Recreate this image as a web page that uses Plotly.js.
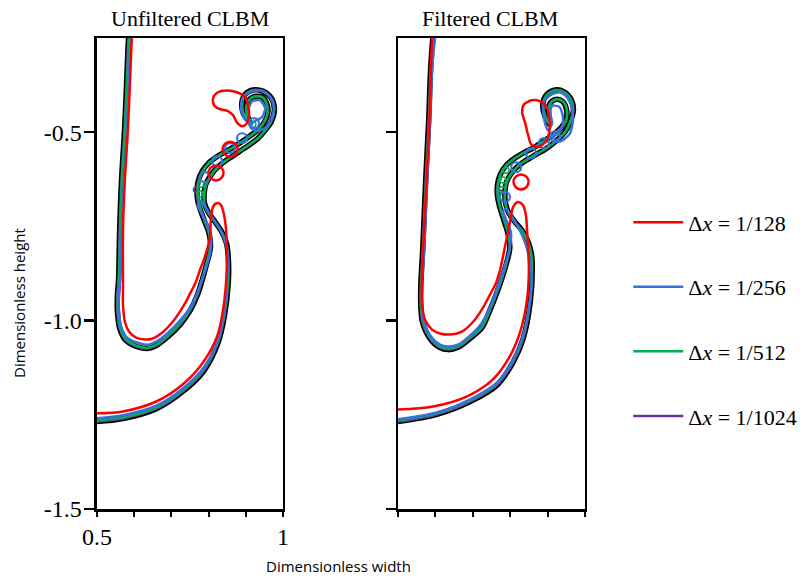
<!DOCTYPE html>
<html><head><meta charset="utf-8">
<script src="https://cdn.plot.ly/plotly-3.0.1.min.js"></script>
<style>html,body{margin:0;padding:0;background:#fff}</style>
</head><body><div id="chart" style="width:806px;height:582px"></div>
<script>
// ---------- labels ----------
const panelTitles = ['Unfiltered CLBM', 'Filtered CLBM'];
const seriesNames = ['Δ<i>x</i> = 1/128', 'Δ<i>x</i> = 1/256', 'Δ<i>x</i> = 1/512', 'Δ<i>x</i> = 1/1024'];
const xTickVals = [0.5, 0.6, 0.7, 0.8, 0.9, 1.0];
const xTickText = ['0.5', '', '', '', '', '1'];
const yTickVals = [-0.5, -1.0, -1.5];
const yTickText = ['-0.5', '-1.0', '-1.5'];

// ---------- Unfiltered CLBM (left) ----------
// dx = 1/128
const redLx = [.500,.570,.661,.731,.785,.823,.839,.849,.849,.847,.841,.833,.823,.812,.806,.804,.790,.777,.766,.753,.739,.723,.702,.675,.648,.629,.605,.586,.575,.570,.570,.570,.575,.583,.589,.594,.597];
const redLy = [-1.246,-1.241,-1.214,-1.169,-1.111,-1.042,-0.971,-0.865,-0.812,-0.759,-0.717,-0.693,-0.688,-0.698,-0.733,-0.778,-0.831,-0.865,-0.897,-0.923,-0.950,-0.976,-1.005,-1.032,-1.048,-1.050,-1.045,-1.029,-1.003,-0.958,-0.905,-0.759,-0.627,-0.495,-0.362,-0.251,-0.230];
const redLblobX = [.812,.825,.849,.876,.898,.906,.909,.903,.890,.876,.866,.852,.831,.815,.812];
const redLblobY = [-0.410,-0.394,-0.389,-0.394,-0.407,-0.429,-0.455,-0.476,-0.484,-0.474,-0.455,-0.444,-0.439,-0.429,-0.410];
const redLdropX = [.820,.858];
const redLdropY = [-0.608,-0.545];
// dx = 1/256
const blueLx = [.500,.570,.661,.731,.785,.823,.841,.849,.852,.847,.831,.809,.790,.780,.771,.780,.796,.806,.806,.796,.782,.769,.750,.723,.691,.659,.637,.608,.581,.565,.559,.559,.562,.567,.573,.581,.586,.591,.594];
const blueLy = [-1.259,-1.251,-1.225,-1.180,-1.127,-1.056,-0.984,-0.900,-0.844,-0.799,-0.759,-0.725,-0.698,-0.683,-0.691,-0.714,-0.743,-0.775,-0.812,-0.852,-0.892,-0.929,-0.966,-1.000,-1.032,-1.056,-1.064,-1.058,-1.045,-1.016,-0.976,-0.931,-0.892,-0.759,-0.627,-0.495,-0.362,-0.251,-0.230];
const blueLcapX = [.892,.917,.944,.965,.976,.970,.954,.933,.914,.919,.944,.952,.938,.917,.906,.906,.895,.887,.892];
const blueLcapY = [-0.407,-0.392,-0.389,-0.405,-0.434,-0.463,-0.487,-0.497,-0.489,-0.474,-0.460,-0.436,-0.415,-0.418,-0.442,-0.468,-0.463,-0.436,-0.407];
const blueLdropX = [.790,.823,.858,.890,.922];
const blueLdropY = [-0.619,-0.577,-0.542,-0.516,-0.476];
// dx = 1/512
const greenLx = [.500,.570,.661,.731,.785,.823,.841,.852,.852,.847,.833,.815,.798,.788,.788,.793,.804,.820,.841,.863,.887,.911,.933,.952,.968,.976,.968,.946,.919,.898,.890,.895,.911,.903,.903,.919,.944,.957,.957,.944,.925,.903,.879,.852,.825,.801,.785,.774,.771,.774,.780,.790,.801,.804,.793,.782,.769,.750,.723,.688,.656,.634,.605,.578,.562,.556,.556,.559,.562,.567,.575,.581,.586,.589];
const greenLy = [-1.265,-1.257,-1.230,-1.185,-1.132,-1.061,-0.990,-0.900,-0.833,-0.794,-0.762,-0.736,-0.712,-0.688,-0.664,-0.640,-0.619,-0.598,-0.579,-0.564,-0.548,-0.532,-0.516,-0.495,-0.471,-0.439,-0.410,-0.392,-0.389,-0.402,-0.426,-0.452,-0.471,-0.450,-0.426,-0.407,-0.407,-0.429,-0.455,-0.481,-0.500,-0.516,-0.532,-0.548,-0.564,-0.582,-0.603,-0.630,-0.656,-0.683,-0.706,-0.736,-0.767,-0.807,-0.852,-0.892,-0.931,-0.971,-1.008,-1.042,-1.066,-1.072,-1.066,-1.050,-1.019,-0.976,-0.931,-0.892,-0.759,-0.627,-0.495,-0.362,-0.251,-0.230];
const greenLdropX = [.777,.780,.919];
const greenLdropY = [-0.664,-0.638,-0.479];
// dx = 1/1024
const purpleLx = [.500,.570,.661,.731,.786,.824,.842,.853,.853,.848,.834,.816,.799,.789,.788,.792,.803,.819,.840,.862,.886,.910,.932,.952,.969,.977,.969,.946,.919,.897,.889,.894,.910,.902,.902,.918,.944,.958,.958,.945,.925,.903,.879,.852,.824,.800,.783,.772,.769,.771,.778,.789,.801,.805,.794,.783,.770,.751,.724,.689,.656,.634,.604,.577,.561,.555,.555,.558,.561,.566,.574,.580,.585,.588];
const purpleLy = [-1.268,-1.260,-1.233,-1.188,-1.135,-1.063,-0.991,-0.900,-0.833,-0.794,-0.762,-0.736,-0.712,-0.688,-0.664,-0.640,-0.619,-0.598,-0.580,-0.565,-0.549,-0.533,-0.517,-0.495,-0.471,-0.439,-0.410,-0.391,-0.388,-0.401,-0.426,-0.452,-0.471,-0.450,-0.426,-0.407,-0.407,-0.429,-0.455,-0.481,-0.500,-0.516,-0.532,-0.548,-0.564,-0.582,-0.603,-0.630,-0.656,-0.683,-0.706,-0.736,-0.767,-0.807,-0.852,-0.892,-0.932,-0.972,-1.010,-1.044,-1.068,-1.074,-1.068,-1.052,-1.020,-0.976,-0.931,-0.892,-0.759,-0.627,-0.495,-0.362,-0.251,-0.230];
const purpleLdropX = [.766];
const purpleLdropY = [-0.653];

// ---------- Filtered CLBM (right) ----------
const redRx = [.500,.594,.685,.754,.799,.826,.845,.850,.848,.845,.842,.834,.821,.808,.799,.786,.773,.762,.746,.727,.701,.671,.639,.612,.591,.572,.564,.564,.572,.583,.591,.594];
const redRy = [-1.236,-1.228,-1.201,-1.156,-1.095,-1.032,-0.945,-0.865,-0.812,-0.759,-0.720,-0.693,-0.685,-0.698,-0.741,-0.804,-0.865,-0.900,-0.931,-0.966,-1.003,-1.029,-1.037,-1.034,-1.024,-0.997,-0.952,-0.892,-0.714,-0.495,-0.257,-0.230];
const redRblobX = [.858,.837,.832,.840,.848,.856,.872,.888,.901,.906,.904,.896,.880,.858];
const redRblobY = [-0.415,-0.426,-0.447,-0.476,-0.508,-0.532,-0.540,-0.532,-0.513,-0.487,-0.458,-0.431,-0.418,-0.415];
const redRdropX = [.829];
const redRdropY = [-0.632];
const blueRx = [.500,.604,.693,.765,.808,.834,.853,.858,.853,.842,.824,.805,.789,.781,.791,.802,.799,.786,.773,.759,.741,.719,.690,.660,.634,.612,.588,.570,.564,.564,.570,.578,.586,.591,.599,.602];
const blueRy = [-1.262,-1.244,-1.209,-1.164,-1.103,-1.042,-0.945,-0.892,-0.847,-0.799,-0.757,-0.725,-0.704,-0.709,-0.736,-0.767,-0.807,-0.852,-0.892,-0.931,-0.976,-1.013,-1.042,-1.064,-1.069,-1.064,-1.042,-1.003,-0.963,-0.905,-0.812,-0.627,-0.468,-0.336,-0.251,-0.230];
const blueRcapX = [.893,.912,.933,.952,.965,.968,.960,.941,.925,.914,.925,.939,.941,.933,.914,.906,.912,.901,.893,.888,.893];
const blueRcapY = [-0.415,-0.399,-0.394,-0.407,-0.434,-0.468,-0.503,-0.521,-0.526,-0.513,-0.503,-0.487,-0.460,-0.434,-0.429,-0.442,-0.476,-0.495,-0.476,-0.442,-0.415];
const blueRdropX = [.786,.816,.856,.890,.920];
const blueRdropY = [-0.672,-0.593,-0.556,-0.529,-0.511];
const greenRx = [.500,.604,.693,.765,.808,.834,.853,.858,.856,.848,.832,.810,.794,.786,.786,.791,.805,.824,.848,.874,.901,.925,.947,.960,.968,.963,.944,.920,.898,.888,.893,.906,.904,.906,.922,.941,.952,.949,.936,.914,.890,.866,.840,.813,.791,.775,.767,.767,.773,.783,.794,.799,.791,.781,.765,.746,.725,.693,.660,.634,.612,.586,.567,.562,.562,.567,.575,.583,.588,.594,.596];
const greenRy = [-1.265,-1.246,-1.212,-1.167,-1.106,-1.045,-0.947,-0.865,-0.825,-0.794,-0.762,-0.736,-0.712,-0.685,-0.659,-0.632,-0.608,-0.587,-0.571,-0.556,-0.540,-0.521,-0.500,-0.474,-0.442,-0.415,-0.394,-0.389,-0.402,-0.426,-0.455,-0.479,-0.452,-0.426,-0.413,-0.418,-0.442,-0.471,-0.489,-0.508,-0.524,-0.540,-0.553,-0.569,-0.587,-0.611,-0.640,-0.669,-0.698,-0.730,-0.765,-0.807,-0.844,-0.878,-0.923,-0.971,-1.016,-1.045,-1.069,-1.074,-1.069,-1.045,-1.005,-0.963,-0.905,-0.812,-0.627,-0.468,-0.336,-0.251,-0.230];
const greenRdropX = [.778,.781,.789];
const greenRdropY = [-0.653,-0.627,-0.601];
const purpleRx = [.500,.604,.693,.766,.809,.835,.854,.859,.857,.849,.833,.811,.795,.787,.786,.790,.804,.823,.847,.873,.900,.924,.946,.960,.969,.964,.944,.920,.897,.887,.892,.905,.903,.905,.921,.940,.951,.948,.935,.913,.889,.865,.839,.812,.790,.774,.766,.766,.772,.782,.793,.799,.791,.781,.765,.746,.725,.693,.660,.634,.611,.585,.566,.561,.561,.566,.574,.582,.587,.593,.595];
const purpleRy = [-1.268,-1.249,-1.215,-1.170,-1.108,-1.047,-0.948,-0.865,-0.825,-0.794,-0.762,-0.736,-0.712,-0.685,-0.659,-0.632,-0.608,-0.588,-0.572,-0.557,-0.541,-0.522,-0.500,-0.474,-0.442,-0.415,-0.393,-0.388,-0.401,-0.426,-0.455,-0.479,-0.452,-0.426,-0.413,-0.418,-0.442,-0.471,-0.489,-0.508,-0.524,-0.540,-0.553,-0.569,-0.587,-0.611,-0.640,-0.669,-0.698,-0.730,-0.765,-0.807,-0.844,-0.878,-0.924,-0.972,-1.018,-1.047,-1.071,-1.077,-1.071,-1.047,-1.006,-0.963,-0.905,-0.812,-0.627,-0.468,-0.336,-0.251,-0.230];
const purpleRdropX = [.770];
const purpleRdropY = [-0.659];

// ---------- styling ----------
const RED = '#ff0000', BLUE = '#3a6fe0', GREEN = '#00b050', PURPLE = '#7030a0', BLACK = '#000000';
const SERIF = 'Liberation Serif, Times New Roman, serif';
const SANS = 'Open Sans, Noto Sans, sans-serif';

function line(x, y, color, width, xa, ya, smooth, extra) {
  return Object.assign({type: 'scatter', mode: 'lines', x: x, y: y, xaxis: xa, yaxis: ya,
    line: {color: color, width: width, shape: 'spline', smoothing: smooth}, hoverinfo: 'skip', showlegend: false}, extra || {});
}
function drops(x, y, color, size, lw, xa, ya) {
  return {type: 'scatter', mode: 'markers', x: x, y: y, xaxis: xa, yaxis: ya, hoverinfo: 'skip', showlegend: false,
    marker: {symbol: 'circle-open', size: size, color: color, line: {width: lw, color: color}}};
}
function leg(i, rank, show) {
  return {name: seriesNames[i], legendgroup: 'g' + i, legendrank: rank, showlegend: show};
}

const traces = [];
function panel(P, xa, ya, first) {
  traces.push(line(P.pux, P.puy, BLACK, 5.5, xa, ya, 0.9));
  traces.push(line(P.pux, P.puy, PURPLE, 2.5, xa, ya, 0.9, leg(3, 4, first)));
  traces.push(drops(P.pudx, P.pudy, PURPLE, 5, 1.5, xa, ya));
  traces.push(line(P.gx, P.gy, GREEN, 2.5, xa, ya, 0.9, leg(2, 3, first)));
  traces.push(drops(P.gdx, P.gdy, GREEN, 6, 1.5, xa, ya));
  traces.push(line(P.bx, P.by, BLUE, 2.5, xa, ya, 0.9, leg(1, 2, first)));
  traces.push(line(P.bcx, P.bcy, BLUE, 2.5, xa, ya, 0.6));
  traces.push(drops(P.bdx, P.bdy, BLUE, 10, 2.2, xa, ya));
  traces.push(line(P.rx, P.ry, RED, 2.5, xa, ya, 0.9, leg(0, 1, first)));
  traces.push(line(P.rbx, P.rby, RED, 2.5, xa, ya, 0.8));
  traces.push(drops(P.rdx, P.rdy, RED, 15, 2.5, xa, ya));
}
panel({pux: purpleLx, puy: purpleLy, pudx: purpleLdropX, pudy: purpleLdropY,
  gx: greenLx, gy: greenLy, gdx: greenLdropX, gdy: greenLdropY,
  bx: blueLx, by: blueLy, bcx: blueLcapX, bcy: blueLcapY, bdx: blueLdropX, bdy: blueLdropY,
  rx: redLx, ry: redLy, rbx: redLblobX, rby: redLblobY, rdx: redLdropX, rdy: redLdropY}, 'x', 'y', true);
panel({pux: purpleRx, puy: purpleRy, pudx: purpleRdropX, pudy: purpleRdropY,
  gx: greenRx, gy: greenRy, gdx: greenRdropX, gdy: greenRdropY,
  bx: blueRx, by: blueRy, bcx: blueRcapX, bcy: blueRcapY, bdx: blueRdropX, bdy: blueRdropY,
  rx: redRx, ry: redRy, rbx: redRblobX, rby: redRblobY, rdx: redRdropX, rdy: redRdropY}, 'x2', 'y2', false);

const yDom = [0.1254, 0.9347];
function xAx(dom, labels, anchor) {
  return {domain: dom, anchor: anchor, range: [0.5, 1], tickmode: 'array', tickvals: xTickVals, ticktext: xTickText,
    showticklabels: labels, ticks: 'outside', ticklen: 5, tickwidth: 2, tickcolor: '#000',
    showline: true, linewidth: 2.5, linecolor: '#000', mirror: true, showgrid: false, zeroline: false,
    tickfont: {family: SERIF, size: 24, color: '#000'}, ticklabelstandoff: 0, fixedrange: true};
}
function yAx(labels, anchor) {
  return {domain: yDom, anchor: anchor, range: [-1.5, -0.25], tickmode: 'array', tickvals: yTickVals, ticktext: yTickText,
    showticklabels: labels, ticks: 'outside', ticklen: 10, tickwidth: 2.5, tickcolor: '#000',
    showline: true, linewidth: 2.5, linecolor: '#000', mirror: true, showgrid: false, zeroline: false,
    tickfont: {family: SERIF, size: 24, color: '#000'}, ticklabelstandoff: -2, fixedrange: true};
}
function inX(over, anchor) {
  return {overlaying: over, anchor: anchor, range: [0.5, 1], tickmode: 'array', tickvals: xTickVals, ticks: 'inside',
    ticklen: 4, tickwidth: 2, tickcolor: '#000', showticklabels: false, showline: false, showgrid: false, zeroline: false, fixedrange: true};
}
function inY(over, anchor) {
  return {overlaying: over, anchor: anchor, range: [-1.5, -0.25], tickmode: 'array', tickvals: yTickVals, ticks: 'inside',
    ticklen: 4, tickwidth: 2.5, tickcolor: '#000', showticklabels: false, showline: false, showgrid: false, zeroline: false, fixedrange: true};
}

const layout = {
  width: 806, height: 582, margin: {l: 0, r: 0, t: 0, b: 0}, paper_bgcolor: '#fff', plot_bgcolor: '#fff',
  xaxis: xAx([0.1203, 0.3511], true, 'y'), yaxis: yAx(true, 'x'),
  xaxis2: xAx([0.4938, 0.7258], false, 'y2'), yaxis2: yAx(false, 'x2'),
  xaxis3: inX('x', 'y'), yaxis3: inY('y', 'x'),
  xaxis4: inX('x2', 'y2'), yaxis4: inY('y2', 'x2'),
  showlegend: true,
  legend: {x: 0.7795, y: 0.654, xanchor: 'left', yanchor: 'top', font: {family: SERIF, size: 22, color: '#000'},
    tracegroupgap: 33, bgcolor: 'rgba(0,0,0,0)', itemwidth: 50, traceorder: 'grouped'},
  annotations: [
    {text: panelTitles[0], x: 190 / 806, y: 1 - 18 / 582, xref: 'paper', yref: 'paper', showarrow: false,
      font: {family: SERIF, size: 22, color: '#000'}, xanchor: 'center', yanchor: 'middle'},
    {text: panelTitles[1], x: 490 / 806, y: 1 - 18 / 582, xref: 'paper', yref: 'paper', showarrow: false,
      font: {family: SERIF, size: 22, color: '#000'}, xanchor: 'center', yanchor: 'middle'},
    {text: 'Dimensionless width', x: 338 / 806, y: 1 - 566 / 582, xref: 'paper', yref: 'paper', showarrow: false,
      font: {family: SANS, size: 15, color: '#000'}, xanchor: 'center', yanchor: 'middle'},
    {text: 'Dimensionless height', x: 19 / 806, y: 1 - 303 / 582, xref: 'paper', yref: 'paper', showarrow: false,
      textangle: -90, font: {family: SANS, size: 15, color: '#000'}, xanchor: 'center', yanchor: 'middle'}
  ]
};

Plotly.newPlot('chart', traces, layout, {staticPlot: true, displayModeBar: false});
</script></body></html>
